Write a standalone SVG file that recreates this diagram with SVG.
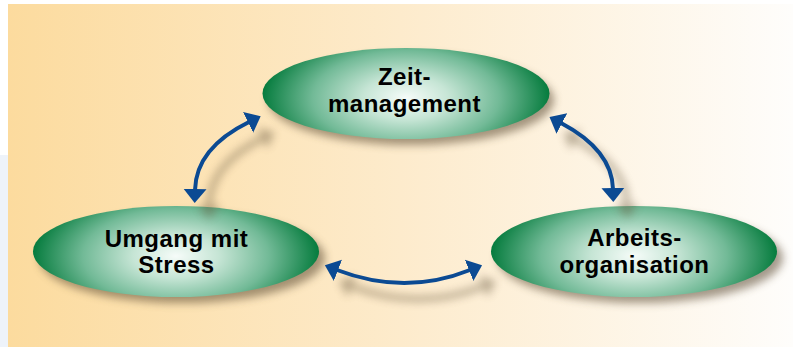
<svg xmlns="http://www.w3.org/2000/svg" width="793" height="347" viewBox="0 0 793 347">
<style>
.lbl{font-family:"Liberation Sans",Arial,sans-serif;font-weight:700;font-size:24px;letter-spacing:0.5px;fill:#000;text-anchor:middle}
.conn{fill:none;stroke:#0B4A93;stroke-width:4;marker-start:url(#ah);marker-end:url(#ah)}
.cshadow{fill:none;stroke:#6b5a40;stroke-width:6;marker-start:url(#ahs);marker-end:url(#ahs)}
.node{fill:url(#gEll)}
.nshadow{fill:#5a4a30;opacity:0.55;filter:url(#blurE)}
</style>
<defs>
<linearGradient id="gBg" x1="0" y1="0" x2="1" y2="0">
<stop offset="0" stop-color="#FCDB9E"/>
<stop offset="0.5" stop-color="#FDEBCC"/>
<stop offset="1" stop-color="#FEFDFB"/>
</linearGradient>
<radialGradient id="gEll" cx="0.5" cy="0.55" r="0.5" gradientTransform="translate(0.5,0.55) scale(1,1.6) translate(-0.5,-0.55)">
<stop offset="0" stop-color="#F6FCF9"/>
<stop offset="0.3" stop-color="#C6E5D5"/>
<stop offset="0.65" stop-color="#72BA97"/>
<stop offset="1" stop-color="#067C3E"/>
</radialGradient>
<filter id="blurE" x="-20%" y="-40%" width="140%" height="180%"><feGaussianBlur stdDeviation="4"/></filter>
<filter id="blurA" x="-50%" y="-50%" width="200%" height="200%"><feGaussianBlur stdDeviation="4.5"/></filter>
<marker id="ah" markerUnits="userSpaceOnUse" markerWidth="16" markerHeight="26" viewBox="0 -13 16 26" refX="1" refY="0" orient="auto-start-reverse">
<path d="M0,-11.5 L14,0 L0,11.5 Z" fill="#0B4A93"/>
</marker>
<marker id="ahs" markerUnits="userSpaceOnUse" markerWidth="16" markerHeight="26" viewBox="0 -13 16 26" refX="1" refY="0" orient="auto-start-reverse">
<path d="M0,-11.5 L14,0 L0,11.5 Z" fill="#6b5a40"/>
</marker>
</defs>
<rect x="0" y="0" width="793" height="347" fill="#FFFFFF"/>
<rect x="0" y="155" width="8" height="192" fill="#EEF3FA"/>
<rect x="8" y="4" width="785" height="343" fill="url(#gBg)"/>

<g id="shadows-nodes">
<ellipse class="nshadow" cx="411" cy="100" rx="143" ry="45"/>
<ellipse class="nshadow" cx="182" cy="258" rx="143" ry="45"/>
<ellipse class="nshadow" cx="640" cy="258" rx="143" ry="45"/>
</g>

<g id="node-zeit">
<ellipse class="node" cx="406" cy="93.5" rx="143.5" ry="45.5"/>
<text class="lbl" x="404.5" y="85">Zeit-</text>
<text class="lbl" x="404.5" y="112">management</text>
</g>
<g id="node-stress">
<ellipse class="node" cx="176" cy="251.5" rx="143" ry="45.5"/>
<text class="lbl" x="176.5" y="246.5">Umgang mit</text>
<text class="lbl" x="176.5" y="273">Stress</text>
</g>
<g id="node-arbeit">
<ellipse class="node" cx="634" cy="251.5" rx="143" ry="45.5"/>
<text class="lbl" x="634.5" y="246">Arbeits-</text>
<text class="lbl" x="634.5" y="273">organisation</text>
</g>

<g id="connectors">
<g opacity="0.45" filter="url(#blurA)">
<path class="cshadow" d="M 249,122 Q 196,148 195,190" transform="translate(14,16)"/>
<path class="cshadow" d="M 561,123 Q 612,150 613,189" transform="translate(14,16)"/>
<path class="cshadow" d="M 337,270 Q 405,296 470,270" transform="translate(14,16)"/>
</g>
<path class="conn" d="M 249,122 Q 196,148 195,190"/>
<path class="conn" d="M 561,123 Q 612,150 613,189"/>
<path class="conn" d="M 337,270 Q 405,296 470,270"/>
</g>
</svg>
